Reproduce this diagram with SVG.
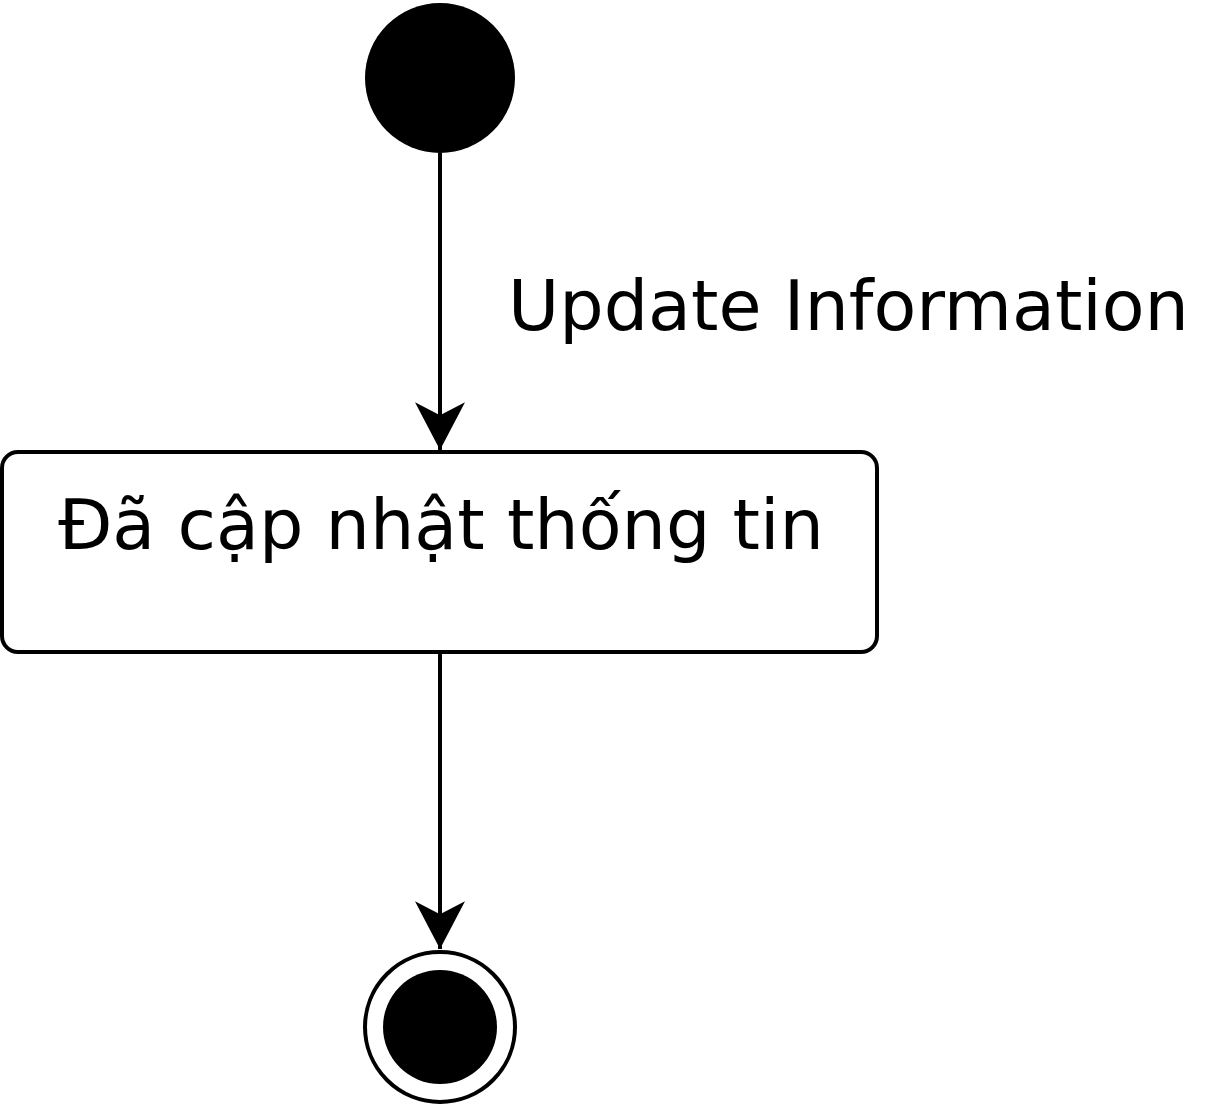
<svg xmlns="http://www.w3.org/2000/svg" width="1230" height="1105" viewBox="0 0 1230 1105">
<style>
.t{font-family:"DejaVu Sans",sans-serif;font-size:70px;fill:#000}
.ln{stroke:#000;stroke-width:4;fill:none}
</style>
<defs>
<marker id="ah" markerUnits="userSpaceOnUse" markerWidth="50" markerHeight="50" refX="44" refY="23" orient="auto" viewBox="0 0 46 46" overflow="visible">
<path d="M44 23 L0 0 L12 23 L0 46 Z" fill="#000"/>
</marker>
</defs>
<rect width="1230" height="1105" fill="#fff"/>
<g id="connectors">
<path class="ln" d="M440 153 L440 450" marker-end="url(#ah)"/>
<path class="ln" d="M440 652 L440 949" marker-end="url(#ah)"/>
<text class="t" x="508" y="330">Update Information</text>
</g>
<g id="start">
<circle cx="440" cy="78" r="75" fill="#000"/>
</g>
<g id="state">
<rect x="2" y="452" width="875" height="200" rx="16" fill="#fff" stroke="#000" stroke-width="4"/>
<text class="t" x="441" y="549" text-anchor="middle">Đã cập nhật thống tin</text>
</g>
<g id="end">
<circle cx="440" cy="1027" r="75" fill="#fff" stroke="#000" stroke-width="4"/>
<circle cx="440" cy="1027" r="57" fill="#000"/>
</g>
</svg>
